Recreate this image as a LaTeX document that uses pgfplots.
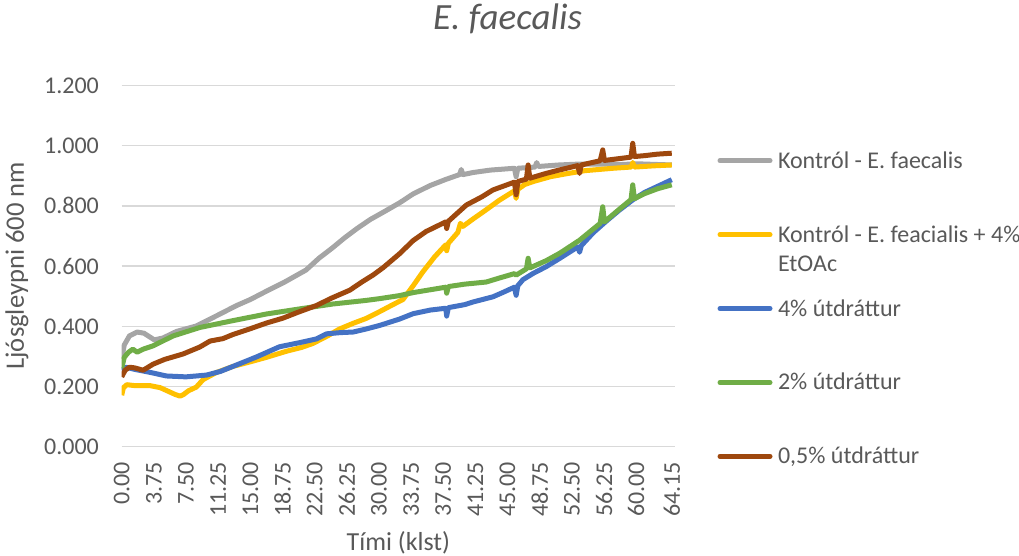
\documentclass[border=0pt]{standalone}
\usepackage{fontspec}
\setmainfont{Carlito}
\usepackage{pgfplots}
\pgfplotsset{compat=1.18}
\definecolor{cGray}{HTML}{A5A5A5}
\definecolor{cYellow}{HTML}{FFC000}
\definecolor{cBlue}{HTML}{4472C4}
\definecolor{cGreen}{HTML}{70AD47}
\definecolor{cBrown}{HTML}{9E480E}
\definecolor{cText}{HTML}{595959}
\definecolor{cGrid}{HTML}{D9D9D9}
\begin{document}
\begin{tikzpicture}
\useasboundingbox (-60.85bp,-54.65bp) rectangle (448.65bp,223.35bp);
\begin{axis}[
  at={(0,0)}, anchor=south west,
  scale only axis, width=276.65bp, height=180.6bp,
  xmin=0, xmax=64.53, ymin=0, ymax=1.2,
  axis line style={draw=none},
  major tick length=0pt,
  ymajorgrids, grid style={cGrid, line width=0.75bp},
  ytick={0,0.2,0.4,0.6,0.8,1.0,1.2},
  xtick={0,3.75,7.5,11.25,15,18.75,22.5,26.25,30,33.75,37.5,41.25,45,48.75,52.5,56.25,60,64.15},
  /pgf/number format/assume math mode=true,
  yticklabel={\pgfmathprintnumber[fixed,fixed zerofill,precision=3]{\tick}},
  xticklabel={\pgfmathprintnumber[fixed,fixed zerofill,precision=2]{\tick}},
  yticklabel style={font=\fontsize{12bp}{14.4bp}\selectfont, text=cText, anchor=base east, inner sep=0pt, xshift=-11.2bp, yshift=-4bp},
  xticklabel style={font=\fontsize{12bp}{14.4bp}\selectfont, text=cText, yshift=-7.5bp, rotate=90, anchor=east, inner sep=0pt},
  xlabel={Tími (klst)},
  xlabel style={font=\fontsize{13bp}{15.6bp}\selectfont, text=cText, at={(axis description cs:0.5,-0.286)}, anchor=base},
  ylabel={Ljósgleypni 600 nm},
  ylabel style={font=\fontsize{13.3bp}{16bp}\selectfont, text=cText, at={(axis description cs:-0.1766,0.5008)}, anchor=base},
  title={E. faecalis},
  title style={font=\fontsize{18.5bp}{22bp}\selectfont\itshape, text=cText, at={(axis description cs:0.6973,1.1213)}, anchor=base},
  legend style={draw=none, fill=none, inner sep=0pt, outer sep=0pt,
    at={(axis description cs:1.0768,0.8206)}, anchor=north west,
    row sep=26.45bp, column sep=2.75bp,
    font=\fontsize{12bp}{14.7bp}\selectfont, text=cText,
    nodes={inner sep=0pt}},
  legend cell align=left,
  legend image code/.code={\draw[#1, line width=2.5bp, line cap=round] (0bp,0bp) -- (25bp,0bp);},
  every axis plot/.append style={line width=2.5bp, line join=round, no marks},
]
\addplot[cGray] coordinates {
(0,0.292) (0.3,0.338) (0.9,0.368) (1.8,0.381) (2.6,0.377) (3.8,0.355) (4.8,0.361) (6.4,0.383) (8.7,0.401) (11,0.434) (13.4,0.469) (15,0.489) (16.9,0.517) (19,0.547) (21.5,0.587) (23,0.626) (24.6,0.661) (26,0.694) (27.4,0.724) (29,0.755) (30.5,0.779) (32.4,0.810) (34,0.840) (36,0.868) (37.8,0.888) (39.4,0.904) (39.6,0.921) (39.8,0.904) (41,0.911) (43,0.919) (45.8,0.925) (46.0,0.897) (46.2,0.925) (48.2,0.929) (48.4,0.944) (48.6,0.931) (51,0.936) (53.4,0.939) (56,0.939) (58,0.937) (60,0.940) (62,0.938) (64.15,0.936)
};
\addlegendentry{\rule[-2.4bp]{0pt}{11.4bp}Kontról - E. faecalis}
\addplot[cYellow] coordinates {
(0,0.171) (0.2,0.196) (0.6,0.206) (1.5,0.203) (3.3,0.203) (4.5,0.196) (5.2,0.187) (6.2,0.174) (6.8,0.168) (7.2,0.173) (7.8,0.186) (8.7,0.198) (9.5,0.223) (11,0.246) (13,0.267) (15,0.282) (16.9,0.297) (19.2,0.317) (21,0.330) (22.3,0.343) (24,0.368) (25.4,0.391) (27,0.410) (28.5,0.426) (30.1,0.449) (31.5,0.470) (32.8,0.489) (34,0.535) (35.1,0.580) (36.5,0.631) (37.8,0.671) (37.9,0.651) (38.1,0.676) (39.2,0.712) (39.5,0.742) (39.8,0.732) (41,0.757) (42.5,0.787) (44,0.818) (45.8,0.850) (46.0,0.825) (46.2,0.855) (47,0.871) (48,0.881) (50,0.897) (51.9,0.907) (54,0.917) (57.3,0.925) (59.4,0.929) (59.6,0.944) (59.8,0.929) (62,0.933) (64.15,0.936)
};
\addlegendentry{\rule[-2.4bp]{0pt}{11.4bp}\smash{\begin{tabular}[t]{@{}l@{}}Kontról - E. feacialis + 4\%\\EtOAc\end{tabular}}}
\addplot[cBlue] coordinates {
(0,0.254) (0.5,0.264) (1.5,0.257) (3.3,0.247) (5.2,0.235) (7.5,0.232) (9.9,0.238) (11.5,0.250) (13,0.267) (15.7,0.298) (18.4,0.332) (20.8,0.346) (22.7,0.358) (23.9,0.375) (25.5,0.379) (27,0.381) (28.5,0.391) (30.1,0.403) (32.4,0.424) (34,0.442) (36,0.454) (37.8,0.460) (37.9,0.434) (38.1,0.462) (40,0.472) (41,0.481) (43.3,0.498) (44.5,0.513) (45.8,0.530) (46.0,0.503) (46.2,0.535) (46.8,0.555) (48,0.576) (49.5,0.598) (51.1,0.626) (53.2,0.664) (53.4,0.646) (53.6,0.668) (55,0.711) (56.5,0.749) (58,0.785) (59.6,0.820) (61,0.845) (62.5,0.865) (64.15,0.887)
};
\addlegendentry{\rule[-2.4bp]{0pt}{11.4bp}4\% útdráttur}
\addplot[cGreen] coordinates {
(0,0.260) (0.3,0.297) (0.8,0.314) (1.3,0.324) (1.8,0.314) (2.5,0.324) (3.65,0.335) (6,0.368) (9.1,0.396) (13,0.419) (16.9,0.441) (20.8,0.458) (24.6,0.474) (28.5,0.486) (30.1,0.492) (32.4,0.502) (34,0.512) (37.8,0.530) (37.9,0.510) (38.1,0.532) (40,0.540) (42.5,0.547) (44,0.560) (45.8,0.575) (46.0,0.570) (47.2,0.591) (47.4,0.626) (47.6,0.594) (48,0.599) (49.5,0.618) (51.1,0.643) (53.4,0.686) (55.8,0.742) (56.1,0.797) (56.3,0.747) (58,0.788) (59.4,0.821) (59.6,0.870) (59.8,0.824) (61,0.841) (62.5,0.857) (64.15,0.870)
};
\addlegendentry{\rule[-2.4bp]{0pt}{11.4bp}2\% útdráttur}
\addplot[cBrown] coordinates {
(0,0.232) (0.4,0.254) (0.9,0.264) (1.5,0.262) (2.5,0.254) (3.65,0.274) (5,0.290) (7.15,0.308) (9.1,0.331) (10.3,0.351) (11.8,0.359) (13,0.373) (14.9,0.391) (16.9,0.411) (18.8,0.427) (20.5,0.446) (22.7,0.469) (24.5,0.494) (26.6,0.520) (28,0.547) (29.3,0.570) (30.5,0.595) (32.4,0.641) (34,0.685) (35.5,0.715) (37.8,0.747) (37.9,0.725) (38.1,0.749) (40.2,0.803) (42,0.830) (43.3,0.853) (45.8,0.879) (46.0,0.837) (46.2,0.881) (47.2,0.889) (47.4,0.936) (47.6,0.892) (49.5,0.908) (51,0.919) (53.2,0.934) (53.4,0.908) (53.6,0.936) (55.8,0.950) (56.1,0.986) (56.3,0.951) (58,0.957) (59.4,0.962) (59.6,1.008) (59.8,0.964) (61,0.967) (62.5,0.972) (64.15,0.975)
};
\addlegendentry{\rule[-2.4bp]{0pt}{11.4bp}0,5\% útdráttur}
\end{axis}
\end{tikzpicture}
\end{document}
